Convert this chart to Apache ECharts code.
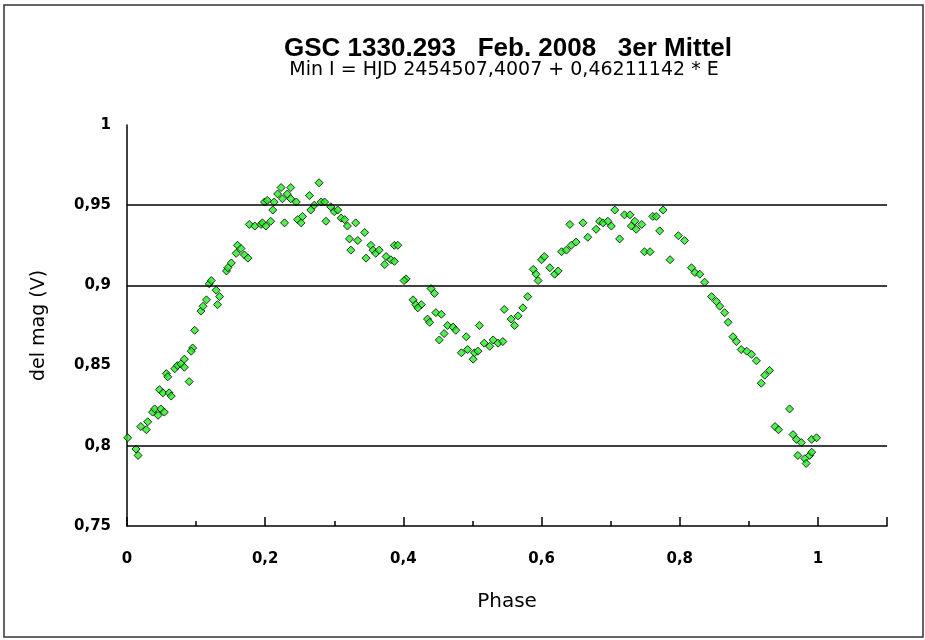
<!DOCTYPE html>
<html>
<head>
<meta charset="utf-8">
<script src="https://cdn.jsdelivr.net/npm/echarts@6/dist/echarts.min.js"></script>
<style>
  html, body { margin: 0; padding: 0; background: #fff; }
  #chart { width: 925px; height: 640px; }
</style>
</head>
<body>
<div id="chart"></div>
<script>
// phase values
const phase = [
  0.001, 0.013, 0.016, 0.020, 0.028, 0.030, 0.037, 0.040, 0.045, 0.049,
  0.054, 0.047, 0.052, 0.061, 0.064, 0.057, 0.059, 0.069, 0.073, 0.078,
  0.083, 0.083, 0.090, 0.095, 0.093, 0.098, 0.107, 0.110, 0.115, 0.119,
  0.122, 0.129, 0.131, 0.134, 0.144, 0.146, 0.151, 0.158, 0.160, 0.165,
  0.170, 0.175, 0.177, 0.185, 0.194,
  0.199, 0.203, 0.196, 0.201, 0.208, 0.211, 0.213, 0.218, 0.223, 0.225,
  0.228, 0.232, 0.237, 0.237, 0.245, 0.247, 0.252, 0.254, 0.264, 0.266,
  0.271, 0.278, 0.281, 0.286, 0.288, 0.295, 0.300, 0.305, 0.310, 0.315,
  0.319, 0.322, 0.324, 0.331, 0.334, 0.344, 0.346, 0.353, 0.356, 0.360,
  0.365, 0.373, 0.375, 0.382, 0.387,
  0.392, 0.387, 0.404, 0.401, 0.414, 0.418, 0.426, 0.421, 0.440, 0.445,
  0.435, 0.438, 0.447, 0.455, 0.464, 0.472, 0.476, 0.459, 0.452, 0.491,
  0.510, 0.484, 0.493, 0.501, 0.503, 0.508, 0.517, 0.525, 0.530, 0.537,
  0.544, 0.546, 0.556, 0.561, 0.566, 0.573, 0.580, 0.588, 0.592, 0.595,
  0.600, 0.604, 0.612, 0.619, 0.624, 0.629, 0.636, 0.643, 0.650, 0.641,
  0.660, 0.667, 0.679, 0.684, 0.689, 0.696, 0.701, 0.706, 0.713, 0.720,
  0.728, 0.730, 0.735, 0.737, 0.745, 0.749, 0.757, 0.761, 0.766, 0.776,
  0.771, 0.786, 0.798,
  0.807, 0.817, 0.822, 0.829, 0.836, 0.846, 0.853, 0.858, 0.865, 0.870,
  0.877, 0.882, 0.889, 0.897, 0.904, 0.911, 0.918, 0.923, 0.930, 0.959,
  0.938, 0.943, 0.964, 0.969, 0.976, 0.991, 0.998, 0.971, 0.981, 0.988,
  0.991, 0.983
];

// del mag (V), same order as phase
const delMag = [
  0.805, 0.798, 0.794, 0.812, 0.810, 0.815, 0.821, 0.823, 0.819, 0.823,
  0.821, 0.835, 0.833, 0.833, 0.831, 0.845, 0.843, 0.848, 0.850, 0.851,
  0.849, 0.854, 0.840, 0.861, 0.859, 0.872, 0.884, 0.887, 0.891, 0.901,
  0.903, 0.897, 0.888, 0.893, 0.909, 0.911, 0.914, 0.920, 0.925, 0.923,
  0.919, 0.917, 0.938, 0.937, 0.938,
  0.952, 0.953, 0.939, 0.937, 0.940, 0.947, 0.952, 0.957, 0.961, 0.954,
  0.939, 0.957, 0.961, 0.954, 0.952, 0.941, 0.939, 0.943, 0.956, 0.947,
  0.950, 0.964, 0.952, 0.952, 0.940, 0.949, 0.946, 0.947, 0.942, 0.941,
  0.937, 0.929, 0.922, 0.939, 0.928, 0.933, 0.917, 0.925, 0.922, 0.920,
  0.922, 0.913, 0.918, 0.916, 0.925,
  0.925, 0.915, 0.904, 0.903, 0.891, 0.888, 0.888, 0.886, 0.898, 0.895,
  0.879, 0.877, 0.883, 0.882, 0.875, 0.874, 0.872, 0.870, 0.866, 0.868,
  0.875, 0.858, 0.860, 0.854, 0.858, 0.859, 0.864, 0.862, 0.866, 0.864,
  0.865, 0.885, 0.879, 0.875, 0.881, 0.886, 0.893, 0.910, 0.907, 0.903,
  0.916, 0.918, 0.911, 0.907, 0.909, 0.921, 0.922, 0.925, 0.927, 0.938,
  0.939, 0.930, 0.935, 0.940, 0.939, 0.940, 0.937, 0.947, 0.929, 0.944,
  0.944, 0.937, 0.940, 0.935, 0.938, 0.921, 0.921, 0.943, 0.943, 0.947,
  0.934, 0.916, 0.931,
  0.928, 0.911, 0.908, 0.907, 0.902, 0.893, 0.890, 0.887, 0.883, 0.877,
  0.868, 0.865, 0.860, 0.859, 0.857, 0.853, 0.839, 0.844, 0.847, 0.823,
  0.812, 0.810, 0.807, 0.804, 0.802, 0.804, 0.805, 0.794, 0.792, 0.794,
  0.796, 0.789
];

// horizontal lines drawn across the plot
const gridLevels = [0.8, 0.9, 0.95];

const xRange = [0, 1.1];
const yRange = [0.75, 1];

const commaFmt = v => String(+v.toFixed(2)).replace('.', ',');
const font = 'Liberation Sans';
const wideFont = 'DejaVu Sans';

const myChart = echarts.init(document.getElementById('chart'));
myChart.setOption({
  backgroundColor: '#fff',
  animation: false,
  title: [
    {
      text: 'GSC 1330.293   Feb. 2008   3er Mittel',
      left: 508, top: 36, textAlign: 'center', padding: 0,
      textStyle: { fontFamily: font, fontWeight: 'bold', fontSize: 26, color: '#000' }
    },
    {
      text: 'Min I = HJD 2454507,4007 + 0,46211142 * E',
      left: 504, top: 61, textAlign: 'center', padding: 0,
      textStyle: { fontFamily: wideFont, fontWeight: 'normal', fontSize: 19, color: '#000' }
    }
  ],
  graphic: [{
    type: 'rect', silent: true,
    shape: { x: 4, y: 5, width: 919, height: 632 },
    style: { fill: 'none', stroke: '#333', lineWidth: 1.5 }
  }],
  grid: { left: 127, right: 38, top: 125, bottom: 114 },
  xAxis: {
    type: 'value', min: xRange[0], max: xRange[1], interval: 0.2,
    name: 'Phase', nameLocation: 'middle', nameGap: 66,
    nameTextStyle: { fontFamily: wideFont, fontSize: 20, color: '#000' },
    axisLine: { lineStyle: { color: '#000', width: 1.5 } },
    axisTick: { inside: true, length: 9, lineStyle: { color: '#000', width: 1.5 } },
    minorTick: { show: true, splitNumber: 2, length: 5, lineStyle: { color: '#000', width: 1.5 } },
    splitLine: { show: false },
    axisLabel: {
      margin: 26, showMaxLabel: false, formatter: commaFmt,
      fontFamily: wideFont, fontWeight: 'bold', fontSize: 15, color: '#000'
    }
  },
  yAxis: {
    type: 'value', min: yRange[0], max: yRange[1], interval: 0.05,
    name: 'del mag (V)', nameLocation: 'middle', nameRotate: 90, nameGap: 78,
    nameTextStyle: { fontFamily: wideFont, fontSize: 19, color: '#000' },
    axisLine: { show: true, lineStyle: { color: '#000', width: 1.5 } },
    axisTick: { show: false },
    splitLine: { show: false },
    axisLabel: {
      margin: 16, formatter: commaFmt,
      fontFamily: wideFont, fontWeight: 'bold', fontSize: 15, color: '#000'
    }
  },
  series: [{
    type: 'scatter',
    data: phase.map((p, i) => [p, delMag[i]]),
    symbol: 'diamond',
    symbolSize: 8,
    itemStyle: { color: '#22ee22', borderColor: '#000', borderWidth: 1 },
    markLine: {
      silent: true, symbol: 'none', label: { show: false },
      lineStyle: { color: '#000', width: 1.5, type: 'solid' },
      data: gridLevels.map(v => ({ yAxis: v }))
    }
  }]
});
</script>
</body>
</html>
